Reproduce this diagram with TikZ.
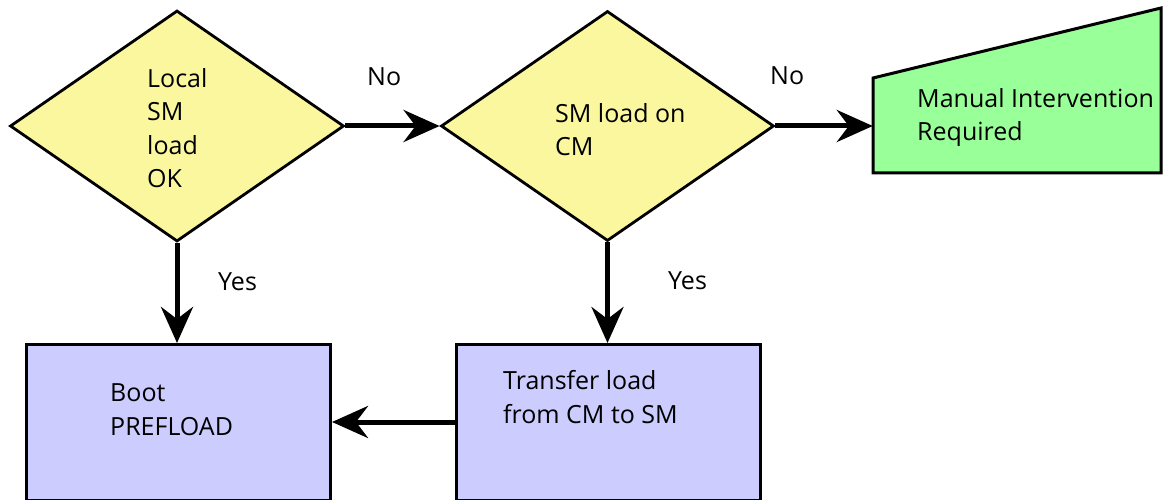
\documentclass[tikz,border=0pt]{standalone}
\usepackage{fontspec}
\setmainfont{Open Sans}
\usetikzlibrary{shapes.geometric,arrows.meta}

\definecolor{decisionfill}{HTML}{FBF79E}
\definecolor{processfill}{HTML}{CCCCFF}
\definecolor{manualfill}{HTML}{99FF99}

\tikzset{
  decision/.style={diamond, draw=black, line width=2.8pt, fill=decisionfill,
    inner sep=0pt, line join=miter},
  process/.style={rectangle, draw=black, line width=3pt, fill=processfill,
    inner sep=0pt, anchor=north west},
  label text/.style={anchor=base west, inner sep=0pt, align=left,
    font=\fontsize{25}{33.5}\selectfont},
  flow/.style={line width=5pt,
    -{Stealth[length=36pt, width=32pt, inset=12pt]}},
}

\begin{document}
\begin{tikzpicture}[x=1pt, y=-1pt]
  \useasboundingbox (0,0) rectangle (1163,500);
  \fill[white] (0,0) rectangle (1163,500);

  % decisions
  \node[decision, minimum width=334pt, minimum height=231pt] (local) at (177,126) {};
  \node[decision, minimum width=333pt, minimum height=230pt] (oncm) at (607.5,126) {};

  % manual intervention: slanted top
  \node[inner sep=0pt, minimum width=288pt, minimum height=95pt] (manual) at (1017,125.5) {};
  \draw[line width=3pt, fill=manualfill, line join=miter]
    (873,78) -- (1161,8) -- (1161,173) -- (873,173) -- cycle;

  % processes
  \node[process, minimum width=304pt, minimum height=156pt] (boot) at (25,343) {};
  \node[process, minimum width=304pt, minimum height=156pt] (transfer) at (455,343) {};

  % texts (anchored at the baseline of their last line)
  \node[label text] (t1) at (147,188) {Local\\SM\\load\\OK};
  \node[label text] (t2) at (555,156) {SM load on\\CM};
  \node[label text] (t3) at (917,141) {Manual Intervention\\Required};
  \node[label text] (t4) at (110,435) {Boot\\PREFLOAD};
  \node[label text] (t5) at (503,423) {Transfer load\\from CM to SM};

  % connectors
  \draw[flow] (local.east) -- (oncm.west);
  \draw[flow] (oncm.east) -- (manual.west |- oncm.east);
  \draw[flow] (local.south) -- (boot.north -| local.south);
  \draw[flow] (oncm.south) -- (transfer.north -| oncm.south);
  \draw[flow] (transfer.west |- 0,422) -- (boot.east |- 0,422);

  % branch labels
  \node[label text] (no1) at (367,86) {No};
  \node[label text] (no2) at (770,85) {No};
  \node[label text] (yes1) at (218,290) {Yes};
  \node[label text] (yes2) at (668,289) {Yes};
\end{tikzpicture}
\end{document}
